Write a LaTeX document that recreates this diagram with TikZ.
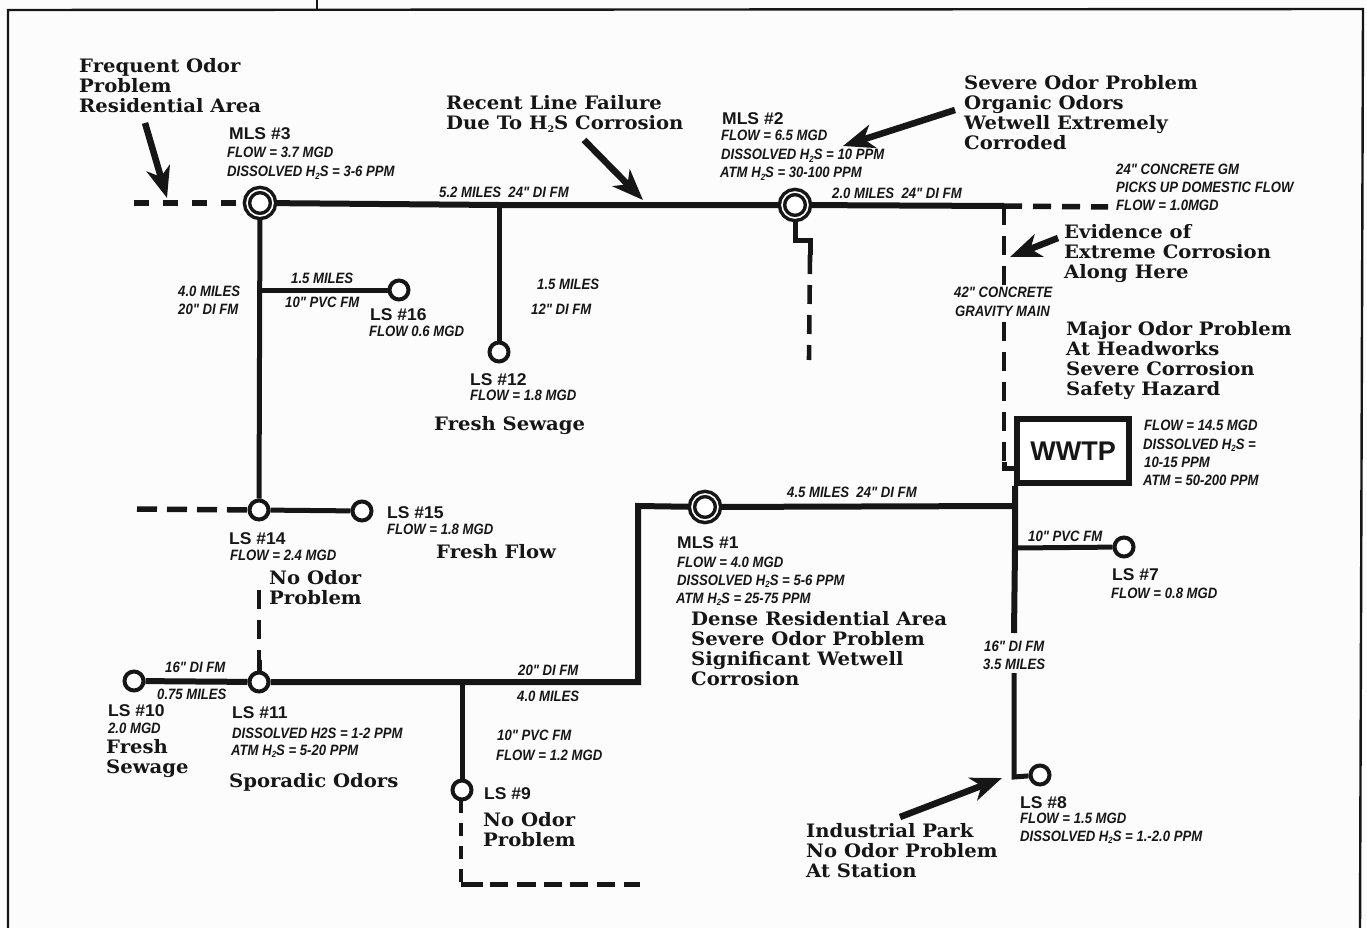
\documentclass[tikz,border=0pt]{standalone}
\usepackage{fontspec}
\usetikzlibrary{arrows.meta}
\setmainfont{Liberation Sans}
\newfontfamily\cfont[FakeStretch=1.06]{DejaVu Serif}
\newfontfamily\sfont[FakeStretch=0.875]{Liberation Sans}
\newfontfamily\lfont[FakeStretch=1.03]{Liberation Sans}
\newcommand{\hs}{H\raisebox{-2.5pt}{\fontsize{9}{9}\selectfont 2}S}
\definecolor{ink}{HTML}{161616}
\tikzset{
  callout/.style={anchor=base west,inner sep=0pt,align=left,text=ink,font=\cfont\bfseries\fontsize{18.5}{20}\selectfont},
  small/.style={anchor=base west,inner sep=0pt,text=ink,font=\sfont\bfseries\itshape\fontsize{15}{18}\selectfont},
  lbl/.style={anchor=base west,inner sep=0pt,text=ink,font=\lfont\bfseries\fontsize{17}{18}\selectfont},
  station/.style={circle,draw=ink,fill=white,line width=4pt,minimum size=19pt,inner sep=0pt},
  mainst/.style={circle,draw=ink,fill=white,double=white,double distance=1.6pt,line width=3.5pt,minimum size=26pt,inner sep=0pt},
  pipe/.style={draw=ink,line width=6pt},
  pipeb/.style={draw=ink,line width=5pt},
  gm/.style={draw=ink,line width=5.5pt,dash pattern=on 18pt off 11pt},
  gmv/.style={draw=ink,line width=4.6pt,dash pattern=on 19pt off 11pt},
  note/.style={draw=ink,line width=6.5pt,-{Stealth[length=31pt,width=24pt,inset=9pt]}},
  frame/.style={draw=ink,line width=2.4pt}
}
\begin{document}
\begin{tikzpicture}[x=1pt,y=-1pt]
\useasboundingbox (0,0) rectangle (1367,928);
\fill[white!99!black] (0,0) rectangle (1367,928);
% frame
\coordinate (fa) at (8,928); \coordinate (fb) at (8,10); \coordinate (fc) at (1363,9); \coordinate (fd) at (1360,928);
\coordinate (ta) at (317,0); \coordinate (tb) at (317,9);
\draw[frame] (fa) -- (fb) -- (fc) -- (fd);
\draw[frame] (ta) -- (tb);
% stations
\node[mainst] (mls3) at (260,203) {};
\node[mainst] (mls2) at (795,205) {};
\node[mainst] (mls1) at (705,507) {};
\node[station] (ls16) at (399,290) {};
\node[station] (ls12) at (499,352) {};
\node[station] (ls14) at (259,510) {};
\node[station] (ls15) at (362,511) {};
\node[station] (ls11) at (259,682) {};
\node[station] (ls10) at (134,681) {};
\node[station] (ls9) at (462,790) {};
\node[station] (ls7) at (1124,547) {};
\node[station] (ls8) at (1040,775) {};
\node[draw=ink,fill=white,line width=5.5pt,minimum width=112pt,minimum height=64pt,inner sep=0pt,font=\bfseries\fontsize{27}{30}\selectfont,text=ink] (wwtp) at (1073,451) {WWTP};
% junction coordinates
\coordinate (j12) at (499,205); \coordinate (j16) at (259,290); \coordinate (jgm) at (1004,206);
\coordinate (wleft) at (1015,506); \coordinate (jl7) at (1015,548);
\coordinate (m1c) at (638,506); \coordinate (m1d) at (638,682); \coordinate (j9) at (462,682);
\coordinate (l8a) at (1014,633); \coordinate (l8b) at (1014,673); \coordinate (l8c) at (1014,777);
% solid pipes
\draw[pipe] (mls3) -- (j12) -- (mls2);
\draw[pipe] (mls2) -- (jgm);
\draw[pipeb] (mls3) -- (ls14);
\draw[pipeb] (j16) -- (ls16);
\draw[pipeb] (j12) -- (ls12);
\draw[pipeb] (ls14) -- (ls15);
\draw[pipe] (ls10) -- (ls11);
\draw[pipe] (ls11) -- (j9) -- (m1d) -- (m1c) -- (mls1);
\draw[pipe] (mls1) -- (wleft);
\draw[pipeb] (j9) -- (ls9);
\draw[pipe] (wwtp.south -| wleft) -- (wleft) -- (jl7) -- (l8a);
\draw[pipeb] (jl7) -- (ls7);
\draw[pipeb] (l8b) -- (l8c) -- (ls8);
% dashed pipes
\coordinate (dl1) at (134,203); \draw[gm,dash pattern=on 15pt off 14pt] (dl1) -- (mls3);
\coordinate (dl2) at (137,509); \draw[gm,dash pattern=on 20pt off 10pt] (dl2) -- (ls14);
\coordinate (dr1) at (1108,207); \draw[gm] (jgm) -- (dr1);
\coordinate (s2a) at (795,240); \coordinate (s2b) at (810,240); \coordinate (s2c) at (810,255); \coordinate (s2d) at (809,360);
\draw[pipeb] (mls2) -- (s2a) -- (s2b) -- (s2c);
\draw[gmv] (s2c) -- (s2d);
\coordinate (g1) at (1004,288); \coordinate (g2) at (1004,322); \coordinate (g3) at (1004,462); \coordinate (g4) at (1004,468);
\draw[gmv] (jgm) -- (g1);
\draw[gmv] (g2) -- (g3);
\draw[pipeb] (g3) -- (g4) -- (wwtp.west |- g4);
\coordinate (d11a) at (259,590); \coordinate (d11b) at (259,660);
\draw[gmv,dash pattern=on 19pt off 11pt] (d11a) -- (d11b);
\draw[pipeb] (d11b) -- (ls11);
\coordinate (d9a) at (461,800); \coordinate (d9b) at (461,884); \coordinate (d9c) at (640,884);
\draw[gmv,dash pattern=on 13pt off 10pt] (d9a) -- (d9b);
\draw[pipeb,dash pattern=on 22pt off 7pt on 18pt off 9pt on 19pt off 8pt on 18pt off 8pt on 18pt off 9pt on 18pt off 9pt] (d9b) -- (d9c);
% callout arrows
\coordinate (a1s) at (145,123); \coordinate (a1t) at (167,198); \draw[note] (a1s) -- (a1t);
\coordinate (a2s) at (584,140); \coordinate (a2t) at (643,200); \draw[note] (a2s) -- (a2t);
\coordinate (a3s) at (955,110); \coordinate (a3t) at (843,146); \draw[note] (a3s) -- (a3t);
\coordinate (a4s) at (1058,238); \coordinate (a4t) at (1010,257); \draw[note] (a4s) -- (a4t);
\coordinate (a5s) at (900,817); \coordinate (a5t) at (1002,778); \draw[note] (a5s) -- (a5t);
% callouts (y is the baseline of the last line)
\node[callout] (c1) at (79,113) {Frequent Odor\\Problem\\Residential Area};
\node[callout] (c2) at (446,130) {Recent Line Failure\\Due To \hs\ Corrosion};
\node[callout] (c3) at (964,150) {Severe Odor Problem\\Organic Odors\\Wetwell Extremely\\Corroded};
\node[callout] (c4) at (1064,278) {Evidence of\\Extreme Corrosion\\Along Here};
\node[callout] (c5) at (1066,395) {Major Odor Problem\\At Headworks\\Severe Corrosion\\Safety Hazard};
\node[callout] (c6) at (434,430) {Fresh Sewage};
\node[callout] (c7) at (436,558) {Fresh Flow};
\node[callout] (c8) at (269,604) {No Odor\\Problem};
\node[callout] (c9) at (106,773) {Fresh\\Sewage};
\node[callout] (c10) at (229,787) {Sporadic Odors};
\node[callout] (c11) at (483,846) {No Odor\\Problem};
\node[callout] (c12) at (691,685) {Dense Residential Area\\Severe Odor Problem\\Significant Wetwell\\Corrosion};
\node[callout] (c13) at (806,877) {Industrial Park\\No Odor Problem\\At Station};
% station names
\node[lbl] (n3) at (229,140) {MLS \#3};
\node[lbl] (n2) at (722,125) {MLS \#2};
\node[lbl] (n1) at (677,548) {MLS \#1};
\node[lbl] (n16) at (370,320) {LS \#16};
\node[lbl] (n12) at (470,385) {LS \#12};
\node[lbl] (n14) at (229,544) {LS \#14};
\node[lbl] (n15) at (387,518) {LS \#15};
\node[lbl] (n10) at (108,716) {LS \#10};
\node[lbl] (n11) at (232,718) {LS \#11};
\node[lbl] (n9) at (484,799) {LS \#9};
\node[lbl] (n7) at (1112,580) {LS \#7};
\node[lbl] (n8) at (1020,808) {LS \#8};
% small italic text
\node[small] (s1) at (227,158) {FLOW = 3.7 MGD};
\node[small] (s2) at (227,177) {DISSOLVED \hs\ = 3-6 PPM};
\node[small] (s3) at (439,197) {5.2 MILES\ \ 24" DI FM};
\node[small] (s4) at (291,283) {1.5 MILES};
\node[small] (s5) at (285,307) {10" PVC FM};
\node[small] (s6) at (178,296) {4.0 MILES};
\node[small] (s7) at (178,314) {20" DI FM};
\node[small] (s8) at (369,336) {FLOW 0.6 MGD};
\node[small] (s9) at (537,289) {1.5 MILES};
\node[small] (s10) at (531,314) {12" DI FM};
\node[small] (s11) at (470,400) {FLOW = 1.8 MGD};
\node[small] (s12) at (721,141) {FLOW = 6.5 MGD};
\node[small] (s13) at (721,160) {DISSOLVED \hs\ = 10 PPM};
\node[small] (s14) at (720,178) {ATM \hs\ = 30-100 PPM};
\node[small] (s15) at (832,198) {2.0 MILES\ \ 24" DI FM};
\node[small] (s16) at (1116,175) {24" CONCRETE GM};
\node[small] (s17) at (1116,193) {PICKS UP DOMESTIC FLOW};
\node[small] (s18) at (1116,210) {FLOW = 1.0MGD};
\node[small] (s19) at (954,297) {42" CONCRETE};
\node[small] (s20) at (955,316) {GRAVITY MAIN};
\node[small] (s21) at (1144,430) {FLOW = 14.5 MGD};
\node[small] (s22) at (1143,449) {DISSOLVED \hs\ =};
\node[small] (s23) at (1144,467) {10-15 PPM};
\node[small] (s24) at (1143,485) {ATM = 50-200 PPM};
\node[small] (s25) at (787,497) {4.5 MILES\ \ 24" DI FM};
\node[small] (s26) at (1028,541) {10" PVC FM};
\node[small] (s27) at (1111,598) {FLOW = 0.8 MGD};
\node[small] (s28) at (984,651) {16" DI FM};
\node[small] (s29) at (983,669) {3.5 MILES};
\node[small] (s30) at (1020,823) {FLOW = 1.5 MGD};
\node[small] (s31) at (1020,841) {DISSOLVED \hs\ = 1.-2.0 PPM};
\node[small] (s32) at (677,567) {FLOW = 4.0 MGD};
\node[small] (s33) at (677,585) {DISSOLVED \hs\ = 5-6 PPM};
\node[small] (s34) at (676,603) {ATM \hs\ = 25-75 PPM};
\node[small] (s35) at (230,560) {FLOW = 2.4 MGD};
\node[small] (s36) at (387,534) {FLOW = 1.8 MGD};
\node[small] (s37) at (108,733) {2.0 MGD};
\node[small] (s38) at (165,672) {16" DI FM};
\node[small] (s39) at (157,699) {0.75 MILES};
\node[small] (s40) at (232,738) {DISSOLVED H2S = 1-2 PPM};
\node[small] (s41) at (231,755) {ATM \hs\ = 5-20 PPM};
\node[small] (s42) at (518,675) {20" DI FM};
\node[small] (s43) at (517,701) {4.0 MILES};
\node[small] (s44) at (497,740) {10" PVC FM};
\node[small] (s45) at (496,760) {FLOW = 1.2 MGD};
\end{tikzpicture}
\end{document}
